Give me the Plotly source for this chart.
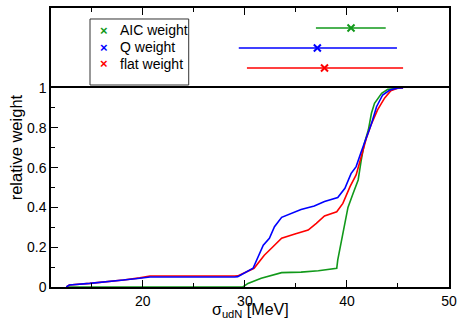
import plotly.graph_objects as go

# ---- data ----
blue_x = [12.5, 12.8, 14.8, 16.8, 18.1, 19.7, 20.7, 29.0, 29.3, 30.8, 31.3, 31.8, 32.4, 32.9, 33.6, 34.5, 35.5, 36.8, 37.8, 39.1, 39.8, 40.4, 40.9, 41.4, 41.9, 42.4, 42.9, 43.5, 44.2, 45.0, 45.5]
blue_y = [0.0, 0.010, 0.018, 0.027, 0.035, 0.044, 0.050, 0.050, 0.052, 0.094, 0.152, 0.21, 0.245, 0.303, 0.35, 0.37, 0.39, 0.407, 0.43, 0.45, 0.496, 0.57, 0.605, 0.68, 0.747, 0.82, 0.906, 0.965, 0.99, 1.0, 1.0]

red_x = [12.5, 12.8, 14.8, 16.8, 18.1, 19.7, 20.7, 29.0, 29.3, 30.9, 31.9, 32.7, 33.6, 34.9, 36.2, 37.0, 37.8, 39.0, 39.6, 40.3, 40.9, 41.4, 41.9, 42.4, 43.0, 43.7, 44.3, 45.0, 45.5]
red_y = [0.0, 0.010, 0.018, 0.027, 0.035, 0.046, 0.055, 0.055, 0.056, 0.094, 0.16, 0.20, 0.245, 0.266, 0.286, 0.32, 0.357, 0.378, 0.42, 0.504, 0.563, 0.655, 0.747, 0.82, 0.89, 0.95, 0.986, 1.0, 1.0]

green_x = [12.5, 29.8, 30.3, 31.6, 33.6, 35.5, 37.2, 39.0, 39.1, 39.6, 40.1, 40.6, 41.1, 41.4, 41.7, 42.1, 42.4, 42.7, 43.4, 44.0, 45.3]
green_y = [0.0, 0.0, 0.018, 0.044, 0.072, 0.075, 0.082, 0.094, 0.136, 0.27, 0.40, 0.47, 0.538, 0.638, 0.72, 0.79, 0.873, 0.923, 0.973, 0.993, 1.0]

est_names = ["AIC weight", "Q weight", "flat weight"]
est_center = [40.4, 37.1, 37.8]
est_low = [36.96, 29.4, 30.2]
est_high = [43.8, 44.9, 45.5]
est_row = [3, 2, 1]

x_ticks = [20, 30, 40, 50]
y_ticks = [0, 0.2, 0.4, 0.6, 0.8, 1]
y_ticktext = ["0", "0.2", "0.4", "0.6", "0.8", "1"]

GREEN = "#11991a"
BLUE = "#0000ff"
RED = "#ff0000"
est_colors = [GREEN, BLUE, RED]

FONT = "Liberation Sans, Arial, Helvetica, sans-serif"

fig = go.Figure()

for xs, ys, c in [(green_x, green_y, GREEN), (red_x, red_y, RED), (blue_x, blue_y, BLUE)]:
    fig.add_trace(go.Scatter(x=xs, y=ys, mode="lines", line=dict(color=c, width=1.6),
                             showlegend=False, xaxis="x", yaxis="y", hoverinfo="skip"))

for name, c0, lo, hi, row, col in zip(est_names, est_center, est_low, est_high, est_row, est_colors):
    fig.add_trace(go.Scatter(
        x=[c0], y=[row], mode="markers", name=name, showlegend=False,
        marker=dict(symbol="x-thin", size=7, color=col, line=dict(color=col, width=2)),
        error_x=dict(type="data", symmetric=False, array=[hi - c0], arrayminus=[c0 - lo],
                     color=col, thickness=1.5, width=0),
        xaxis="x2", yaxis="y2"))

split = 199 / 279
XR = [11, 50]

# legend drawn as a framed box with coloured markers and labels (paper coordinates)
leg_rows_y = [0.9211, 0.8602, 0.7993]
annotations = []
for name, col, yy in zip(est_names, est_colors, leg_rows_y):
    annotations.append(dict(text="<b>×</b>", xref="paper", yref="paper", x=0.1337, y=yy,
                            xanchor="center", yanchor="middle", showarrow=False,
                            font=dict(size=13, color=col)))
    annotations.append(dict(text=name, xref="paper", yref="paper", x=0.1690, y=yy,
                            xanchor="left", yanchor="middle", showarrow=False,
                            font=dict(size=14)))

annotations += [
    dict(text="σ<sub>udN</sub> [MeV]", xref="paper", yref="paper", x=0.5, y=-0.083,
         xanchor="center", yanchor="middle", showarrow=False, font=dict(size=16)),
    dict(text="relative weight", xref="paper", yref="paper", x=-0.087, y=0.502,
         xanchor="center", yanchor="middle", textangle=-90, showarrow=False, font=dict(size=16.5)),
]

fig.update_layout(
    width=458, height=323,
    margin=dict(l=51, r=9, t=8, b=36, autoexpand=False),
    paper_bgcolor="white", plot_bgcolor="white",
    font=dict(family=FONT, size=14, color="black"),
    showlegend=False,
    xaxis=dict(domain=[0, 1], range=XR, autorange=False, tickvals=x_ticks, ticklen=7, tickwidth=1,
               minor=dict(tickvals=[15, 25, 35, 45], ticks="inside", ticklen=4, tickcolor="black"),
               anchor="y", automargin=False, showline=True, linecolor="black", linewidth=1.5,
               mirror=True, ticks="inside", tickcolor="black", showgrid=False, zeroline=False),
    yaxis=dict(domain=[0, split], range=[0, 1], autorange=False, tickvals=y_ticks, ticktext=y_ticktext,
               ticklen=7, tickwidth=1,
               minor=dict(tickvals=[0.1, 0.3, 0.5, 0.7, 0.9], ticks="inside", ticklen=4, tickcolor="black"),
               anchor="x", automargin=False, showline=True, linecolor="black", linewidth=1.5,
               mirror=True, ticks="inside", tickcolor="black", showgrid=False, zeroline=False),
    xaxis2=dict(domain=[0, 1], range=XR, autorange=False, tickvals=x_ticks, ticklen=7, tickwidth=1,
                minor=dict(tickvals=[15, 25, 35, 45], ticks="inside", ticklen=4, tickcolor="black"),
                showticklabels=False, anchor="y2", side="top", automargin=False,
                showline=True, linecolor="black", linewidth=1.5, mirror=False,
                ticks="inside", tickcolor="black", showgrid=False, zeroline=False),
    yaxis2=dict(domain=[split, 1], range=[0, 4], autorange=False, showticklabels=False, ticks="",
                showline=True, linecolor="black", linewidth=1.5, mirror=True, automargin=False,
                showgrid=False, zeroline=False, anchor="x2"),
    shapes=[dict(type="rect", xref="paper", yref="paper", x0=0.0980, x1=0.3460, y0=0.7240, y1=0.9606,
                 line=dict(color="#333333", width=1), fillcolor="rgba(0,0,0,0)")],
    annotations=annotations,
)

fig.write_html("out.html", config={"displayModeBar": False},
               post_script="document.body.style.margin='0';document.body.style.overflow='hidden';")
